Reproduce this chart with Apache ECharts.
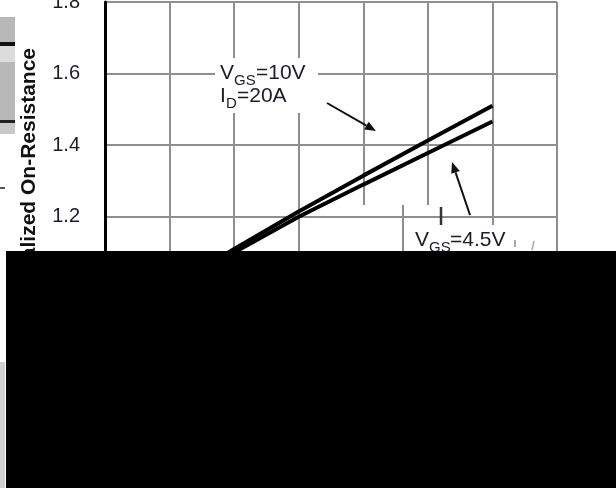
<!DOCTYPE html>
<html>
<head>
<meta charset="utf-8">
<script src="https://cdn.jsdelivr.net/npm/echarts@6/dist/echarts.min.js"></script>
<style>
  html, body { margin: 0; padding: 0; background: #fff; }
  #chart { width: 616px; height: 488px; }
</style>
</head>
<body>
<div id="chart"></div>
<script>
// junction temperature (°C) and normalized Rds(on)
var temps = [0, 25, 50, 75, 100, 125, 150];
var rdsVgs10 = [0.90, 1.00, 1.11, 1.215, 1.315, 1.413, 1.51];
var rdsVgs45 = [0.91, 1.00, 1.10, 1.20, 1.29, 1.378, 1.466];

var FONT = "'Liberation Sans', Arial, sans-serif";
var GRID_GREY = "#8e8e8e";

function pairs(xs, ys) {
  return xs.map(function (x, i) { return [x, ys[i]]; });
}

// line with a filled head at (x2, y2)
function arrow(x1, y1, x2, y2) {
  var dx = x2 - x1, dy = y2 - y1;
  var len = Math.sqrt(dx * dx + dy * dy);
  var ux = dx / len, uy = dy / len;
  var hl = 11, hw = 4.5;
  var bx = x2 - ux * hl, by = y2 - uy * hl;
  return [
    {
      type: "line", z: 50,
      shape: { x1: x1, y1: y1, x2: bx, y2: by },
      style: { stroke: "#111", lineWidth: 2 }
    },
    {
      type: "polygon", z: 50,
      shape: { points: [[x2, y2], [bx - uy * hw, by + ux * hw], [bx + uy * hw, by - ux * hw]] },
      style: { fill: "#111" }
    }
  ];
}

function txt(x, y, s, size, extra) {
  var st = { text: s, x: x, y: y, fill: "#1b1b2b", font: size + "px " + FONT, verticalAlign: "middle" };
  if (extra) for (var k in extra) st[k] = extra[k];
  return { type: "text", z: 60, style: st };
}

function rect(x, y, w, h, fill, z) {
  return { type: "rect", z: z || 40, shape: { x: x, y: y, width: w, height: h }, style: { fill: fill } };
}

function vline(x, y1, y2, color, w) {
  return { type: "line", z: 45, shape: { x1: x, y1: y1, x2: x, y2: y2 }, style: { stroke: color, lineWidth: w } };
}

var graphics = [];
// label box for VGS=10V
graphics.push(rect(215, 58, 103, 55, "#fff"));
graphics.push(txt(220, 73, "V", 21));
graphics.push(txt(234, 81, "GS", 15));
graphics.push(txt(256, 73, "=10V", 21));
graphics.push(txt(220, 96, "I", 21));
graphics.push(txt(226, 104, "D", 15));
graphics.push(txt(237, 96, "=20A", 21));

// label box for VGS=4.5V
graphics.push(rect(362, 205, 193, 50, "#fff"));
graphics.push({ type: "line", z: 45, shape: { x1: 362, y1: 217, x2: 557, y2: 217 }, style: { stroke: GRID_GREY, lineWidth: 2 } });
graphics.push(vline(403, 205, 252, GRID_GREY, 2));
graphics.push(vline(493, 205, 225, GRID_GREY, 2));
graphics.push(vline(441, 207, 225, "#333", 2.5));
graphics.push(vline(515, 240, 247, "#aaa", 2));
graphics.push({ type: "line", z: 45, shape: { x1: 534, y1: 241, x2: 532, y2: 250 }, style: { stroke: "#aaa", lineWidth: 1.5 } });
graphics.push(txt(415, 240, "V", 21));
graphics.push(txt(429, 248, "GS", 15));
graphics.push(txt(450, 240, "=4.5V", 21));

graphics = graphics.concat(arrow(327, 103, 376, 131));
graphics = graphics.concat(arrow(470, 215, 452, 162));

// scraps of the neighbouring figure on the left edge
graphics.push(rect(0, 17, 15, 26, "#b8b8b8", 30));
graphics.push(rect(0, 42, 15, 4, "#111", 30));
graphics.push(rect(0, 46, 15, 16, "#dcdcdc", 30));
graphics.push(rect(0, 62, 15, 58, "#b8b8b8", 30));
graphics.push(rect(0, 120, 15, 3, "#222", 30));
graphics.push(rect(0, 123, 15, 11, "#c8c8c8", 30));
graphics.push(rect(0, 187, 5, 2, "#555", 30));
graphics.push(rect(0, 362, 5, 126, "#cfcfcf", 30));

// cover block
graphics.push(rect(6, 251, 610, 237, "#000", 100));

var chart = echarts.init(document.getElementById("chart"), null, { renderer: "canvas" });
chart.setOption({
  animation: false,
  backgroundColor: "#fff",
  grid: { left: 105, right: 59, top: 2, bottom: 128, outerBoundsMode: "none", containLabel: false },
  xAxis: {
    type: "value",
    min: 0,
    max: 175,
    interval: 25,
    axisLine: { show: true, lineStyle: { color: "#000", width: 3 } },
    axisTick: { show: false },
    axisLabel: { fontSize: 20, fontFamily: FONT, color: "#1b1b2b", margin: 10 },
    splitLine: { show: true, lineStyle: { color: GRID_GREY, width: 2 } },
    name: "Temperature (°C)",
    nameLocation: "middle",
    nameGap: 40,
    nameTextStyle: { fontSize: 20, fontFamily: FONT, fontWeight: "bold", color: "#111" }
  },
  yAxis: {
    type: "value",
    min: 0.8,
    max: 1.8,
    interval: 0.2,
    axisLine: { show: true, lineStyle: { color: "#000", width: 3 } },
    axisTick: { show: false },
    axisLabel: {
      fontSize: 20, fontFamily: FONT, color: "#1b1b2b", margin: 25,
      formatter: function (v) { return v.toFixed(1); }
    },
    splitLine: { show: true, lineStyle: { color: GRID_GREY, width: 2 } },
    name: "Normalized On-Resistance",
    nameLocation: "middle",
    nameGap: 65,
    nameTextStyle: { fontSize: 21, fontFamily: FONT, fontWeight: "bold", color: "#111" }
  },
  series: [
    {
      name: "VGS=10V",
      type: "line",
      data: pairs(temps, rdsVgs10),
      symbol: "none",
      lineStyle: { color: "#000", width: 4 },
      z: 5
    },
    {
      name: "VGS=4.5V",
      type: "line",
      data: pairs(temps, rdsVgs45),
      symbol: "none",
      lineStyle: { color: "#000", width: 4 },
      z: 5
    }
  ],
  graphic: graphics
});
</script>
</body>
</html>
